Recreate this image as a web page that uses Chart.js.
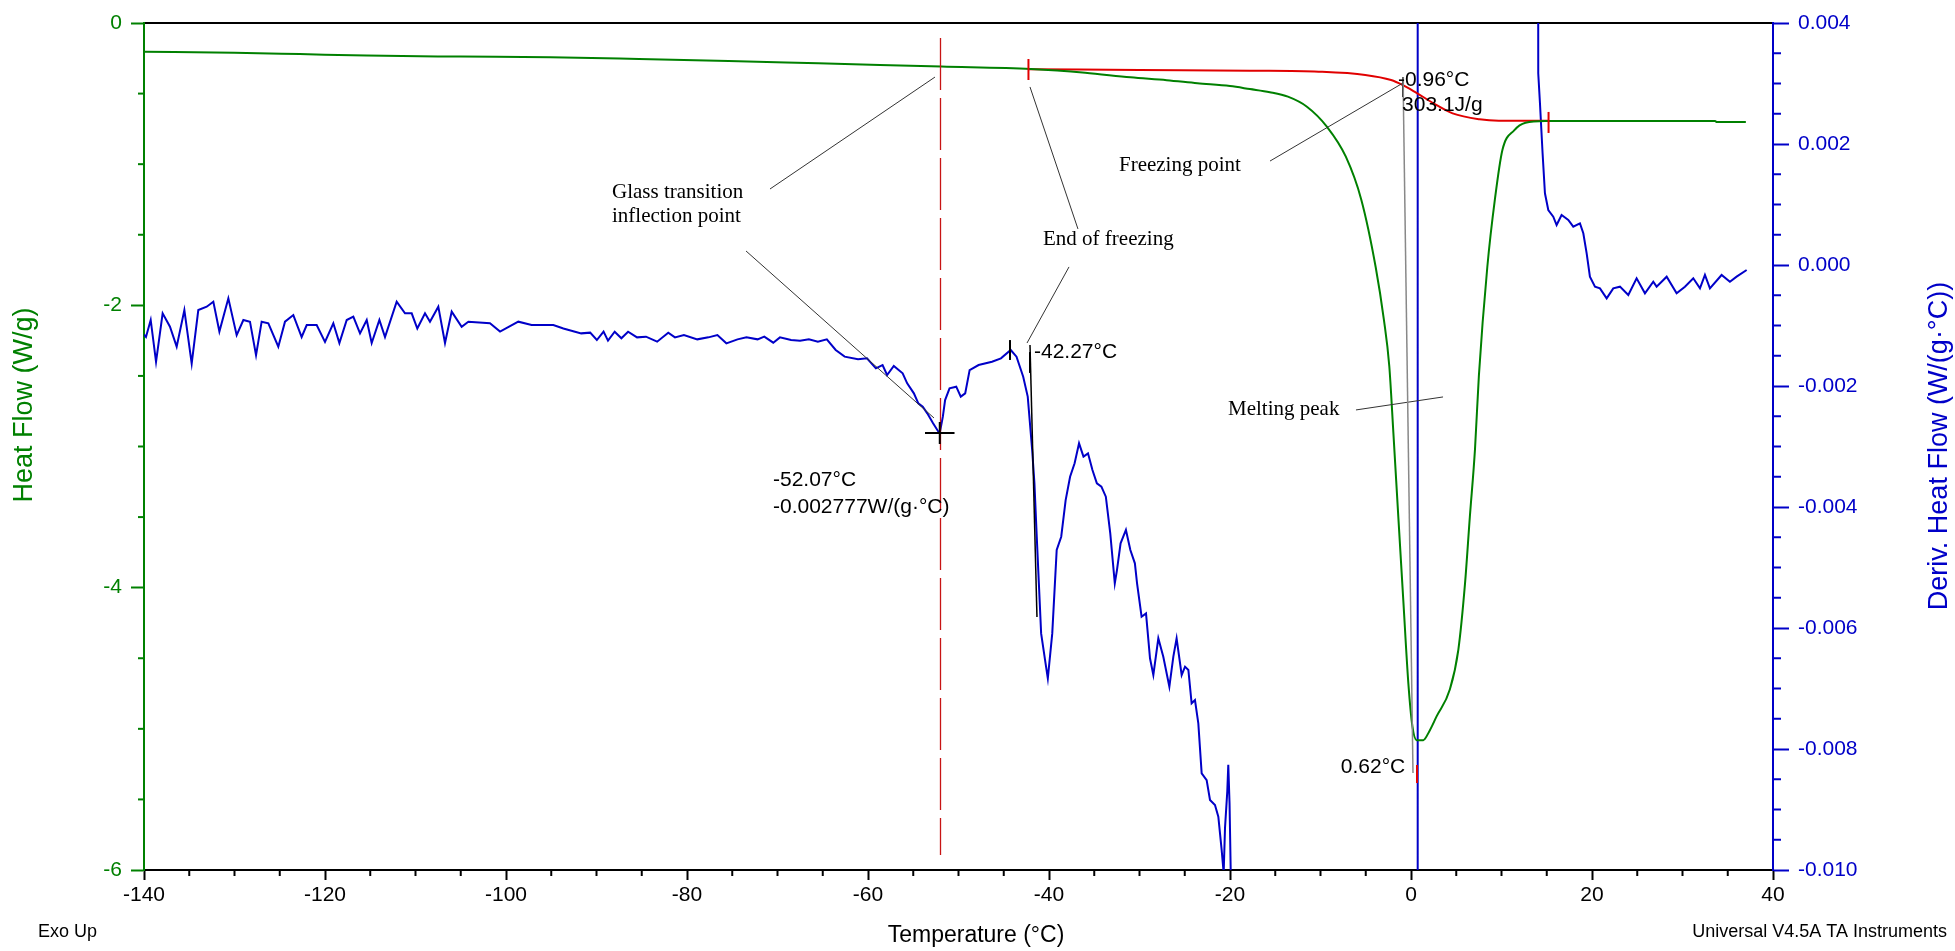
<!DOCTYPE html>
<html><head><meta charset="utf-8">
<script src="https://cdn.jsdelivr.net/npm/chart.js@4.4.1/dist/chart.umd.min.js"></script>
<style>html,body{margin:0;padding:0;background:#fff;overflow:hidden}canvas{display:block}</style>
</head><body><canvas id="c" width="1955" height="951"></canvas>
<script>
// ---------- DATA ----------
const heatT = [-140,-130,-122.8,-115.4,-105,-95.1,-85.3,-75.4,-65.5,-51.9,-42,-36,-31,-27,-23.6,-20,-17.8,-15.6,-13.6,-11.5,-9.3,-7.2,-5.5,-3.9,-3.0,-2.4,-1.95,-1.40,-0.85,-0.29,0.15,0.62,1.36,2.0,2.84,4.3,5.23,5.97,6.5,7.07,7.5,8.43,9.27,10.1,11.4,12.65,14.8,20,25,30,33.6,33.8,37];
const heatFlow = [-0.203,-0.210,-0.220,-0.231,-0.238,-0.243,-0.255,-0.269,-0.286,-0.309,-0.326,-0.352,-0.385,-0.405,-0.427,-0.447,-0.468,-0.49,-0.522,-0.593,-0.734,-0.947,-1.25,-1.73,-2.1,-2.43,-2.90,-3.50,-4.09,-4.68,-4.98,-5.08,-5.08,-5.02,-4.91,-4.72,-4.44,-3.97,-3.50,-3.02,-2.5,-1.73,-1.25,-0.90,-0.76,-0.706,-0.694,-0.694,-0.694,-0.694,-0.695,-0.702,-0.702];

const partialT = [-42.27,-30,-17.8,-10.2,-5.05,-2.2,-0.9,0.38,2.5,4.6,7.57,9.7,15.2];
const partialHF = [-0.327,-0.333,-0.338,-0.345,-0.368,-0.404,-0.44,-0.486,-0.569,-0.64,-0.682,-0.692,-0.692];

const derivT = [-140,-139.78,-139.26,-138.67,-137.94,-137.13,-136.39,-135.54,-134.73,-134.0,-133.07,-132.34,-131.67,-130.68,-129.76,-129.02,-128.29,-127.62,-127.0,-126.26,-125.16,-124.42,-123.5,-122.58,-122.02,-120.92,-120.0,-119.08,-118.41,-117.6,-116.87,-116.13,-115.39,-114.84,-113.99,-113.37,-112.08,-111.16,-110.42,-109.8,-108.95,-108.4,-107.48,-106.74,-106.0,-104.9,-104.16,-101.77,-100.66,-98.64,-97.17,-94.77,
-93.66,-91.69,-90.70,-89.96,-89.22,-88.73,-87.99,-87.25,-86.51,-85.52,-84.53,-83.30,-82.07,-81.33,-80.34,-78.86,-77.63,-76.64,-75.65,-74.42,-73.43,-72.20,-71.46,-70.47,-69.73,-68.50,-67.51,-66.53,-65.54,-64.55,-63.57,-62.58,-61.10,-60.11,-59.13,-58.39,-57.89,-57.15,-56.17,-55.67,-54.93,-54.44,-53.95,-53.45,-52.81,-52.22,-52.07,-51.73,-51.48,-50.99,-50.25,-49.75,-49.26,-48.77,-47.78,-46.30,-45.31,-44.23,-43.59,-42.85,-42.35,-41.86,-41.61,-41.37,-41.12,-40.87,-40.38,-40.13,-39.64,-39.15,-38.65,-38.16,-37.67,-37.17,-36.68,-36.19,-35.69,-35.20,-34.71,-34.21,-33.72,-33.23,-32.73,-32.49,-32.09,-31.50,-31.01,-30.51,-30.27,-29.77,-29.28,
-28.84,-28.47,-27.92,-27.37,-26.70,-26.26,-25.90,-25.34,-24.97,-24.60,-24.24,-23.87,-23.50,-23.13,-22.58,-22.21,-21.66,-21.29,-20.92,-20.70,-20.55,-20.30,-20.19,-20.05,-19.90,-19.60,0.70,0.74,13.95,
14.06,14.25,14.54,14.80,15.17,15.72,16.09,16.64,17.38,17.93,18.67,19.04,19.41,19.77,20.33,20.88,21.62,22.35,23.09,24.01,24.93,25.85,26.77,27.14,28.25,29.35,30.27,31.19,31.93,32.48,33.03,34.32,35.24,35.98,37.09];
const derivHF = [-0.00115,-0.00119,-0.000909,-0.00160,-0.000799,-0.00102,-0.00135,-0.000744,-0.00163,-0.000744,-0.000689,-0.000606,-0.00110,-0.000551,-0.00116,-0.000909,-0.000937,-0.00149,-0.000937,-0.000964,-0.00135,-0.000937,-0.000827,-0.00119,-0.000992,-0.000992,-0.00127,-0.000964,-0.00129,-0.000909,-0.000854,-0.00113,-0.000909,-0.00129,-0.000909,-0.00119,-0.000606,-0.000799,-0.000799,-0.00105,-0.000799,-0.000937,-0.000689,-0.00129,-0.000771,-0.00102,-0.000937,-0.000964,-0.00110,-0.000937,-0.000992,-0.000992,
-0.00105,-0.00113,-0.001118,-0.00124,-0.001102,-0.001251,-0.001102,-0.001212,-0.001102,-0.001196,-0.001185,-0.001267,-0.001118,-0.001196,-0.001157,-0.001229,-0.001196,-0.001157,-0.001295,-0.001229,-0.001196,-0.001229,-0.001185,-0.001284,-0.001196,-0.00124,-0.001251,-0.001229,-0.001267,-0.001229,-0.001405,-0.001515,-0.001559,-0.001543,-0.001708,-0.001653,-0.001818,-0.001669,-0.001791,-0.001956,-0.002121,-0.002287,-0.002342,-0.002452,-0.002617,-0.002755,-0.002777,-0.002507,-0.002232,-0.002039,-0.002011,-0.002176,-0.002121,-0.001736,-0.001653,-0.001598,-0.001543,-0.001405,-0.001515,-0.001846,-0.002176,-0.003058,-0.003609,-0.004436,-0.005262,-0.006089,-0.006584,-0.006832,-0.006089,-0.004711,-0.004491,-0.003885,-0.003499,-0.003278,-0.002948,-0.003168,-0.003113,-0.003389,-0.003609,-0.003664,-0.003829,-0.004436,-0.005262,-0.005042,-0.004601,-0.00438,-0.004711,-0.004931,-0.005262,-0.005813,-0.005758,
-0.00650,-0.006777,-0.006171,-0.006474,-0.00697,-0.006474,-0.006171,-0.006777,-0.006639,-0.006694,-0.007245,-0.00719,-0.007576,-0.008402,-0.008513,-0.008843,-0.008926,-0.009119,-0.00967,-0.01005,-0.0093,-0.0087,-0.00826,-0.0089,-0.0102,-0.0130,-0.0300,0.0300,0.0300,
0.003168,0.002673,0.001846,0.001185,0.000909,0.000799,0.000661,0.000827,0.000744,0.000634,0.000689,0.000524,0.000193,-0.000193,-0.000358,-0.000386,-0.000551,-0.000386,-0.000358,-0.000496,-0.00022,-0.000468,-0.000276,-0.000358,-0.000193,-0.000468,-0.000358,-0.00022,-0.000386,-0.000165,-0.000386,-0.000165,-0.000276,-0.000193,-0.000083];

const xTicks = [-140,-120,-100,-80,-60,-40,-20,0,20,40];
const xTickLabels = ['-140','-120','-100','-80','-60','-40','-20','0','20','40'];
const leftTicks = [-6,-4,-2,0];
const leftTickLabels = ['-6','-4','-2','0'];
const rightTicks = [-0.010,-0.008,-0.006,-0.004,-0.002,0,0.002,0.004];
const rightTickLabels = ['-0.010','-0.008','-0.006','-0.004','-0.002','0.000','0.002','0.004'];

// ---------- STYLE ----------
const SANS = '"Liberation Sans", Arial, sans-serif';
const SERIF = '"Liberation Serif", "Times New Roman", serif';
const GREEN = 'rgb(0,128,0)';
const BLUE = 'rgb(0,0,200)';
const RED = 'rgb(225,0,0)';

const toPts = (xs, ys) => xs.map((x, i) => ({x: x, y: ys[i]}));
const labelFrom = (vals, labels) => (v) => {
  const i = vals.findIndex(t => Math.abs(t - v) < 1e-9);
  return i >= 0 ? labels[i] : '';
};

// annotation definitions (data coordinates)
const noteTexts = [
  {text:'Glass transition', T:-88.29, H:-1.204, font:'21px '+SERIF},
  {text:'inflection point', T:-88.29, H:-1.374, font:'21px '+SERIF},
  {text:'End of freezing', T:-40.66, H:-1.537, font:'21px '+SERIF},
  {text:'Freezing point', T:-32.27, H:-1.006, font:'21px '+SERIF},
  {text:'Melting peak', T:-20.22, H:-2.741, font:'21px '+SERIF},
  {text:'-52.07°C', T:-70.50, H:-3.237, font:'21px '+SANS},
  {text:'-0.002777W/(g·°C)', T:-70.50, H:-3.429, font:'21px '+SANS},
  {text:'-42.27°C', T:-41.66, H:-2.331, font:'21px '+SANS},
  {text:'-0.96°C', T:-1.44, H:-0.404, font:'21px '+SANS},
  {text:'303.1J/g', T:-0.99, H:-0.581, font:'21px '+SANS},
  {text:'0.62°C', T:-0.64, H:-5.270, font:'21px '+SANS, align:'right'}
];
const leaderLines = [
  [-70.83,-1.176,-52.60,-0.383],
  [-73.48,-1.615,-52.71,-2.798],
  [-42.10,-0.453,-36.80,-1.459],
  [-37.79,-1.728,-42.43,-2.267],
  [-15.58,-0.978,-0.88,-0.425],
  [-6.08,-2.741,3.54,-2.649]
];

const decor = {
  id: 'decor',
  afterDatasetsDraw(chart) {
    const ctx = chart.ctx, a = chart.chartArea;
    const sx = chart.scales.x, sy = chart.scales.y, sy2 = chart.scales.y2;
    const X = v => sx.getPixelForValue(v), Y = v => sy.getPixelForValue(v), Y2 = v => sy2.getPixelForValue(v);
    ctx.save();
    const line = (x1,y1,x2,y2,color,w,dash) => {
      ctx.beginPath(); ctx.strokeStyle = color; ctx.lineWidth = w;
      ctx.setLineDash(dash || []); ctx.moveTo(x1,y1); ctx.lineTo(x2,y2); ctx.stroke(); ctx.setLineDash([]);
    };
    // minor ticks
    for (let t = -140; t <= 40; t += 5) if (t % 20 !== 0) line(X(t), a.bottom, X(t), a.bottom + 6, '#000', 2);
    for (let k = 0; k <= 12; k++) { const v = -6 + k * 0.5; if (k % 4 !== 0) line(a.left, Y(v), a.left - 6, Y(v), GREEN, 2); }
    for (let k = 0; k <= 28; k++) { const v = -0.010 + k * 0.0005; if (k % 4 !== 0) line(a.right, Y2(v), a.right + 8, Y2(v), BLUE, 2); }
    // red dashed vertical line at glass transition
    line(Math.round(X(-52.07)) + 0.5, Y(-0.106), Math.round(X(-52.07)) + 0.5, Y(-5.894), 'rgb(200,20,20)', 1.3, [52, 8]);
    // leader lines
    leaderLines.forEach(l => line(X(l[0]), Y(l[1]), X(l[2]), Y(l[3]), '#333', 1));
    // markers
    line(X(-52.07-1.63), Y2(-0.002777), X(-52.07+1.63), Y2(-0.002777), '#000', 2);
    line(X(-52.07), Y2(-0.002595), X(-52.07), Y2(-0.002959), '#000', 2);
    line(X(-44.31), Y(-2.246), X(-44.31), Y(-2.387), '#000', 2);
    line(X(-42.10), Y(-2.331), X(-42.10), Y(-2.479), '#000', 2);
    line(X(-42.10), Y(-2.281), X(-41.33), Y(-4.208), '#000', 1.5);
    line(X(-0.88), Y(-0.383), X(-0.88), Y(-0.524), '#000', 2);
    line(X(-0.88), Y(-0.383), X(0.22), Y(-5.313), '#888', 1.5);
    line(X(-42.27), Y(-0.255), X(-42.27), Y(-0.404), RED, 2);
    line(X(15.2), Y(-0.630), X(15.2), Y(-0.779), RED, 2);
    line(X(0.66), Y(-5.256), X(0.66), Y(-5.384), RED, 2);
    // annotation texts
    ctx.fillStyle = '#000'; ctx.textBaseline = 'middle';
    noteTexts.forEach(n => { ctx.font = n.font; ctx.textAlign = n.align || 'left'; ctx.fillText(n.text, X(n.T), Y(n.H)); });
    // axis titles and corner texts
    ctx.textAlign = 'center';
    ctx.font = '23px ' + SANS; ctx.fillStyle = '#000';
    ctx.fillText('Temperature (°C)', 976, 936);
    ctx.save(); ctx.translate(25, 405); ctx.rotate(-Math.PI/2);
    ctx.font = '27px ' + SANS; ctx.fillStyle = GREEN; ctx.fillText('Heat Flow (W/g)', 0, 0); ctx.restore();
    ctx.save(); ctx.translate(1940, 446); ctx.rotate(-Math.PI/2);
    ctx.font = '27px ' + SANS; ctx.fillStyle = BLUE; ctx.fillText('Deriv. Heat Flow (W/(g·°C))', 0, 0); ctx.restore();
    ctx.font = '18px ' + SANS; ctx.fillStyle = '#000';
    ctx.textAlign = 'left'; ctx.fillText('Exo Up', 38, 932);
    ctx.textAlign = 'right'; ctx.fillText('Universal V4.5A TA Instruments', 1947, 932);
    ctx.restore();
  }
};

new Chart(document.getElementById('c'), {
  type: 'scatter',
  data: { datasets: [
    { label: 'Heat Flow', data: toPts(heatT, heatFlow), yAxisID: 'y', showLine: true, borderColor: GREEN, borderWidth: 2, pointRadius: 0, cubicInterpolationMode: 'monotone', clip: 0 },
    { label: 'Integration', data: toPts(partialT, partialHF), yAxisID: 'y', showLine: true, borderColor: RED, borderWidth: 2, pointRadius: 0, cubicInterpolationMode: 'monotone', clip: 0 },
    { label: 'Deriv. Heat Flow', data: toPts(derivT, derivHF), yAxisID: 'y2', showLine: true, borderColor: BLUE, borderWidth: 2, pointRadius: 0, tension: 0, clip: 0 }
  ]},
  options: {
    responsive: false, animation: false, events: [],
    layout: { padding: { top: 23, left: 0, right: 0, bottom: 0 } },
    plugins: { legend: { display: false }, tooltip: { enabled: false } },
    scales: {
      x: { type: 'linear', position: 'bottom', min: -140, max: 40,
        afterBuildTicks: s => { s.ticks = xTicks.map(v => ({ value: v })); },
        afterFit: s => { s.height = 81; },
        ticks: { color: '#000', font: { size: 21, family: SANS }, padding: 3, maxRotation: 0, autoSkip: false, callback: labelFrom(xTicks, xTickLabels) },
        grid: { drawOnChartArea: false, drawTicks: true, tickLength: 10, tickWidth: 2, tickColor: '#000' },
        border: { color: '#000', width: 2 } },
      xTop: { type: 'linear', position: 'top', min: -140, max: 40,
        afterFit: s => { s.height = 0; },
        ticks: { display: false },
        grid: { drawOnChartArea: false, drawTicks: false },
        border: { color: '#000', width: 2 } },
      y: { type: 'linear', position: 'left', min: -6, max: 0,
        afterBuildTicks: s => { s.ticks = leftTicks.map(v => ({ value: v })); },
        afterFit: s => { s.width = 144; },
        ticks: { color: GREEN, font: { size: 21, family: SANS }, padding: 9, autoSkip: false, callback: labelFrom(leftTicks, leftTickLabels) },
        grid: { drawOnChartArea: false, drawTicks: true, tickLength: 13, tickWidth: 2, tickColor: GREEN },
        border: { color: GREEN, width: 2 } },
      y2: { type: 'linear', position: 'right', min: -0.010, max: 0.004,
        afterBuildTicks: s => { s.ticks = rightTicks.map(v => ({ value: v })); },
        afterFit: s => { s.width = 182; },
        ticks: { color: BLUE, font: { size: 21, family: SANS }, padding: 9, autoSkip: false, callback: labelFrom(rightTicks, rightTickLabels) },
        grid: { drawOnChartArea: false, drawTicks: true, tickLength: 16, tickWidth: 2, tickColor: BLUE },
        border: { color: BLUE, width: 2 } }
    }
  },
  plugins: [decor]
});
</script>
</body></html>
